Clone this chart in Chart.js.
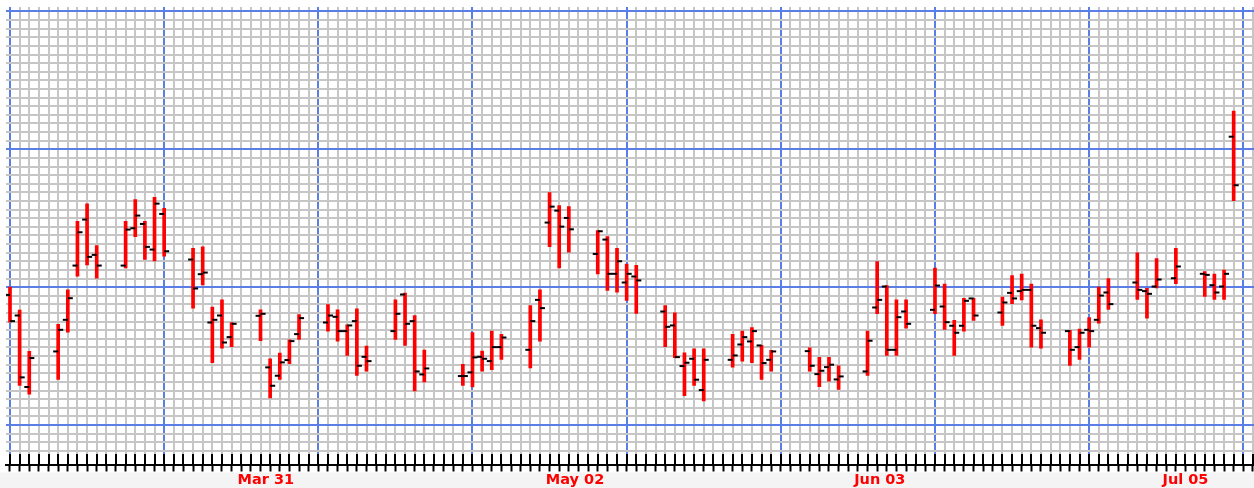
<!DOCTYPE html>
<html><head><meta charset="utf-8">
<script src="https://cdn.jsdelivr.net/npm/chart.js@4.4.1/dist/chart.umd.min.js"></script>
<style>html,body{margin:0;padding:0;background:#fff;overflow:hidden}canvas{display:block}</style>
</head><body>
<canvas id="c" width="1254" height="488"></canvas>
<script>
// Trading days as drawn on the chart
const dates = [
 '2014-03-05','2014-03-06','2014-03-07',
 '2014-03-10','2014-03-11','2014-03-12','2014-03-13','2014-03-14',
 '2014-03-17','2014-03-18','2014-03-19','2014-03-20','2014-03-21',
 '2014-03-24','2014-03-25','2014-03-26','2014-03-27','2014-03-28',
 '2014-03-31','2014-04-01','2014-04-02','2014-04-03','2014-04-04',
 '2014-04-07','2014-04-08','2014-04-09','2014-04-10','2014-04-11',
 '2014-04-14','2014-04-15','2014-04-16','2014-04-17',
 '2014-04-21','2014-04-22','2014-04-23','2014-04-24','2014-04-25',
 '2014-04-28','2014-04-29','2014-04-30','2014-05-01','2014-05-02',
 '2014-05-05','2014-05-06','2014-05-07','2014-05-08','2014-05-09',
 '2014-05-12','2014-05-13','2014-05-14','2014-05-15','2014-05-16',
 '2014-05-19','2014-05-20','2014-05-21','2014-05-22','2014-05-23',
 '2014-05-27','2014-05-28','2014-05-29','2014-05-30',
 '2014-06-02','2014-06-03','2014-06-04','2014-06-05','2014-06-06',
 '2014-06-09','2014-06-10','2014-06-11','2014-06-12','2014-06-13',
 '2014-06-16','2014-06-17','2014-06-18','2014-06-19','2014-06-20',
 '2014-06-23','2014-06-24','2014-06-25','2014-06-26','2014-06-27',
 '2014-06-30','2014-07-01','2014-07-02','2014-07-04',
 '2014-07-07','2014-07-08','2014-07-09','2014-07-10'
];
// Prices in chart grid units (one minor grid step = 1 unit)
const openVals = [
 15.11,12.71,4.41,
 8.54,12.21,18.51,23.85,19.75,
 18.51,22.84,23.34,20.37,24.50,
 19.21,17.51,11.90,12.71,10.20,
 12.68,6.69,5.72,7.54,10.55,
 11.90,12.56,10.90,12.06,7.92,
 10.90,15.15,12.06,5.87,
 5.68,6.11,7.92,7.42,9.04,
 8.73,14.53,23.50,24.89,24.04,
 19.86,21.53,17.55,16.54,17.24,
 13.18,11.56,6.84,7.69,4.06,
 7.57,9.35,9.70,9.24,7.57,
 8.58,5.91,6.72,5.29,
 6.22,13.64,16.08,8.73,13.18,
 13.37,13.76,11.52,11.52,14.69,
 13.06,15.34,15.54,15.69,11.25,
 10.90,9.04,11.05,12.21,15.38,
 16.54,15.54,16.08,17.04,
 17.55,16.23,16.08,33.47
];
const highVals = [
 16.00,13.33,8.54,
 11.67,15.69,23.65,25.66,20.83,
 23.65,26.16,23.65,26.43,25.16,
 20.52,20.68,13.68,14.53,11.90,
 13.37,7.69,8.35,9.89,12.83,
 13.99,13.37,11.63,13.49,9.16,
 14.53,15.30,12.71,8.70,
 7.03,10.74,8.58,10.90,10.51,
 13.87,15.69,26.98,25.47,25.35,
 22.57,21.87,20.52,18.67,18.52,
 13.87,13.02,8.39,8.85,8.85,
 10.51,10.90,11.32,9.24,8.66,
 8.97,7.85,7.85,6.88,
 10.90,18.98,16.19,14.53,14.53,
 18.20,16.35,12.14,14.69,14.69,
 14.84,17.35,17.51,16.35,12.21,
 10.98,11.13,12.48,16.00,17.00,
 19.98,15.85,19.32,20.52,
 17.82,17.51,17.97,36.44
];
const lowVals = [
 11.94,4.60,3.59,
 5.29,10.78,17.28,18.59,17.04,
 18.24,21.87,19.21,19.05,19.59,
 13.57,16.27,7.23,8.93,9.08,
 9.78,3.13,5.29,7.11,9.93,
 10.90,9.74,8.08,5.76,6.26,
 9.93,9.24,3.94,4.99,
 4.60,4.41,6.26,6.42,7.61,
 6.61,9.74,20.71,18.24,20.06,
 17.55,15.61,15.42,14.45,12.95,
 9.08,7.81,3.40,4.60,2.78,
 6.72,7.42,7.23,5.29,6.26,
 6.26,4.44,5.10,4.14,
 5.76,12.91,8.08,8.08,11.25,
 12.91,11.09,8.08,10.90,12.14,
 11.56,14.07,14.53,9.04,8.93,
 6.92,7.61,9.04,11.83,13.41,
 14.57,12.41,15.92,16.39,
 14.92,14.57,14.57,26.05
];
const closeVals = [
 12.06,5.53,7.77,
 11.05,14.72,22.38,19.52,18.51,
 22.69,24.31,20.68,25.70,20.17,
 15.85,17.70,12.21,9.58,11.75,
 12.91,4.56,7.27,9.74,12.41,
 12.71,10.90,11.56,6.88,7.42,
 12.91,11.75,6.22,6.57,
 5.68,7.85,7.69,9.04,10.16,
 12.06,13.57,25.35,23.03,22.72,
 22.49,17.55,19.01,17.55,16.78,
 11.40,7.88,7.23,5.26,7.57,
 8.08,10.20,10.90,7.19,8.54,
 6.88,6.30,7.00,5.64,
 9.78,14.53,8.73,12.52,11.75,
 16.19,11.94,10.71,14.42,12.71,
 14.22,14.69,15.69,11.52,10.71,
 8.73,10.71,10.90,15.03,14.03,
 15.69,15.23,16.89,18.40,
 17.43,15.38,17.55,27.83
];
// Axis settings
const axisStart = '2014-03-05';
const tickDates = ['2014-03-31','2014-05-02','2014-06-03','2014-07-05'];
const tickLabels = ['Mar 31','May 02','Jun 03','Jul 05'];
const xMin = -0.415, xMax = 129.11;
const yMin = -3.31, yMax = 48.52;
const majorEvery = 16;

const DAY = 86400000;
const dayIndex = d => Math.round((Date.parse(d) - Date.parse(axisStart)) / DAY);
const labelMap = {};
tickDates.forEach((d, i) => { labelMap[dayIndex(d)] = tickLabels[i]; });

const rangeData = dates.map((d, i) => ({x: dayIndex(d), y: [lowVals[i], highVals[i]]}));
const openData = dates.map((d, i) => ({x: dayIndex(d), y: openVals[i]}));
const closeData = dates.map((d, i) => ({x: dayIndex(d), y: closeVals[i]}));

function tickImage(side) {
  const c = document.createElement('canvas');
  c.width = 12; c.height = 4;
  const g = c.getContext('2d');
  g.fillStyle = '#000';
  if (side === 'left') g.fillRect(1, 1, 5, 2); else g.fillRect(6, 1, 5, 2);
  return c;
}
const GREY = '#c6c6c6', BLUE = '#5b7de6';
const isMajor = v => Math.abs(v / majorEvery - Math.round(v / majorEvery)) < 1e-6;
const gridColor = ctx => (ctx.tick && isMajor(ctx.tick.value)) ? BLUE : GREY;
const noPad = s => { s.paddingLeft = 0; s.paddingRight = 0; s.paddingTop = 0; s.paddingBottom = 0; };

const bandPlugin = {
  id: 'band',
  beforeDraw(chart) {
    const {ctx, width, height} = chart;
    const s = chart.scales.x2;
    ctx.save();
    ctx.fillStyle = '#ffffff';
    ctx.fillRect(0, 0, width, height);
    ctx.fillStyle = '#f4f4f4';
    ctx.fillRect(0, s.top + 8, width, height);
    ctx.restore();
  }
};

new Chart(document.getElementById('c'), {
  type: 'line',
  data: {
    datasets: [
      {type: 'line', label: 'Open', data: openData, showLine: false, pointStyle: tickImage('left'), pointRadius: 6, pointHoverRadius: 6, order: 1},
      {type: 'line', label: 'Close', data: closeData, showLine: false, pointStyle: tickImage('right'), pointRadius: 6, pointHoverRadius: 6, order: 1},
      {type: 'bar', label: 'Range', data: rangeData, backgroundColor: '#ff0000', borderWidth: 0, barThickness: 3, order: 2}
    ]
  },
  options: {
    responsive: false,
    animation: false,
    devicePixelRatio: 1,
    layout: {autoPadding: false, padding: {left: 6, top: 7, right: 0, bottom: 0}},
    plugins: {legend: {display: false}, tooltip: {enabled: false}},
    scales: {
      x: {
        type: 'linear', position: 'bottom', weight: 0, min: xMin, max: xMax, offset: false,
        ticks: {stepSize: 1, display: false, includeBounds: false},
        grid: {color: gridColor, lineWidth: 2, offset: false, drawTicks: true, tickLength: 11, tickColor: '#000', tickWidth: 2},
        border: {display: false},
        afterFit: noPad
      },
      x2: {
        type: 'linear', position: 'bottom', weight: 1, min: xMin, max: xMax, offset: false,
        ticks: {
          stepSize: 1, includeBounds: false, autoSkip: false, maxRotation: 0, minRotation: 0,
          align: 'start', labelOffset: -23, padding: 1, color: '#ff0000',
          font: {family: 'DejaVu Sans', weight: 'bold', size: 14.5, lineHeight: 1.0},
          callback: v => labelMap[v] || ''
        },
        grid: {drawOnChartArea: false, drawTicks: true, tickLength: 7, tickColor: '#000', tickWidth: 2},
        border: {display: true, color: '#000', width: 2},
        afterFit: noPad
      },
      y: {
        type: 'linear', position: 'left', min: yMin, max: yMax,
        ticks: {stepSize: 1, display: false, includeBounds: false},
        grid: {color: gridColor, lineWidth: 2, drawTicks: false},
        border: {display: false},
        afterFit: noPad
      }
    }
  },
  plugins: [bandPlugin]
});
</script>
</body></html>
